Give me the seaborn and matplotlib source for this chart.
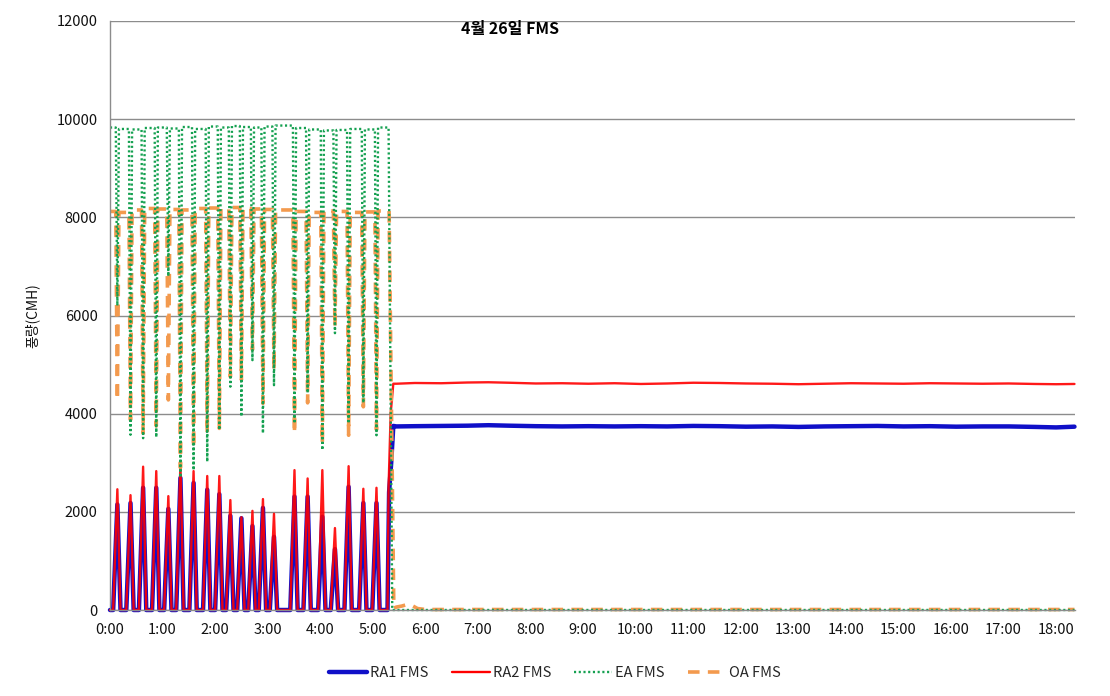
import matplotlib
matplotlib.use("Agg")
import matplotlib.pyplot as plt
import seaborn as sns
import pandas as pd

# ---------------- data (hours since 0:00, values in CMH) ----------------
title = "4월 26일 FMS"
y_label = "풍량(CMH)"
series_names = ["RA1 FMS", "RA2 FMS", "EA FMS", "OA FMS"]
x_ticks = list(range(0, 19))
x_tick_labels = [f"{h}:00" for h in x_ticks]
y_ticks = [0, 2000, 4000, 6000, 8000, 10000, 12000]

# intermittent cycles (0:00 - 5:20): return-air fan pulses
t_on = [0.06, 0.31, 0.55, 0.80, 1.03, 1.26, 1.51, 1.77, 2.00, 2.21, 2.42,
        2.63, 2.83, 3.04, 3.43, 3.68, 3.96, 4.20, 4.46, 4.74, 4.99]
t_peak = [0.14, 0.39, 0.63, 0.88, 1.11, 1.34, 1.59, 1.85, 2.08, 2.29, 2.50,
          2.71, 2.91, 3.12, 3.51, 3.76, 4.04, 4.28, 4.54, 4.82, 5.07]
t_off = [0.20, 0.45, 0.69, 0.94, 1.17, 1.40, 1.65, 1.91, 2.14, 2.35, 2.56,
         2.77, 2.97, 3.18, 3.57, 3.82, 4.10, 4.34, 4.60, 4.88, 5.13]
ra2_peak = [2460, 2340, 2920, 2830, 2320, 2990, 2830, 2730, 2730, 2240, 1890,
            2020, 2260, 1960, 2850, 2680, 2850, 1670, 2930, 2470, 2490]
ra1_peak = [2150, 2180, 2490, 2490, 2060, 2690, 2590, 2450, 2360, 1920, 1870,
            1710, 2080, 1490, 2310, 2310, 1900, 1240, 2510, 2180, 2180]
# exhaust / outdoor-air dips during the same cycles
d_on = [0.11, 0.36, 0.60, 0.85, 1.08, 1.31, 1.56, 1.82, 2.05, 2.26, 2.47,
        2.68, 2.88, 3.09, 3.48, 3.73, 4.01, 4.25, 4.51, 4.79, 5.04]
d_off = [0.17, 0.42, 0.66, 0.91, 1.14, 1.37, 1.62, 1.88, 2.11, 2.32, 2.53,
         2.74, 2.94, 3.15, 3.54, 3.79, 4.07, 4.31, 4.57, 4.85, 5.10]
ea_min = [6200, 3570, 3500, 3520, 6800, 2700, 2850, 3020, 3670, 4550, 3940,
          5090, 3600, 4580, 3800, 4420, 3260, 5640, 3800, 4220, 3560]
oa_min = [4280, 3870, 3600, 3750, 4280, 2900, 3300, 3600, 3700, 4750, 4690,
          5300, 4210, 4890, 3600, 4220, 3400, 5770, 3560, 4140, 3670]
ea_top = [9830, 9800, 9790, 9820, 9830, 9810, 9840, 9800, 9850, 9830, 9860,
          9840, 9830, 9850, 9870, 9820, 9790, 9770, 9780, 9800, 9790, 9830]
oa_top = [8120, 8100, 8150, 8180, 8170, 8160, 8150, 8180, 8190, 8170, 8200,
          8180, 8170, 8160, 8150, 8120, 8100, 8130, 8120, 8100, 8110, 8130]

# switch-over to continuous operation (~5:18 - 5:24)
ra1_switch_t = [5.28, 5.31, 5.35, 5.39]
ra1_switch_v = [0, 2400, 3000, 3750]
ra2_switch_t = [5.28, 5.30, 5.34, 5.39]
ra2_switch_v = [0, 2500, 4000, 4610]
ea_switch_t = [5.30, 5.37]
ea_switch_v = [9830, 0]
oa_switch_t = [5.31, 5.40]
oa_switch_v = [8130, 40]

# continuous operation
steady_t = [5.45, 5.8, 6.3, 6.8, 7.2, 7.6, 8.1, 8.6, 9.1, 9.6, 10.1, 10.6,
            11.1, 11.6, 12.1, 12.6, 13.1, 13.6, 14.1, 14.6, 15.1, 15.6, 16.1,
            16.6, 17.1, 17.6, 18.0, 18.35]
ra2_steady = [4610, 4625, 4620, 4635, 4640, 4630, 4615, 4620, 4610, 4620,
              4605, 4615, 4630, 4625, 4615, 4610, 4600, 4610, 4620, 4615,
              4610, 4620, 4615, 4610, 4615, 4605, 4600, 4605]
ra1_steady = [3740, 3745, 3750, 3755, 3765, 3755, 3745, 3740, 3745, 3740,
              3745, 3740, 3750, 3745, 3735, 3740, 3730, 3740, 3745, 3750,
              3740, 3745, 3735, 3740, 3740, 3730, 3720, 3735]
ea_tail_t = [5.45, 18.35]
ea_tail_v = [0, 0]
oa_tail_t = [5.45, 5.55, 5.65, 5.75, 5.85, 6.0, 18.35]
oa_tail_v = [60, 80, 110, 90, 30, 10, 10]


def ra_series(peaks, sw_t, sw_v, steady):
    t, v = [0.0], [0.0]
    for a, p, b, pk in zip(t_on, t_peak, t_off, peaks):
        t += [a, p, b]
        v += [0, pk, 0]
    t += sw_t + steady_t
    v += sw_v + steady
    return pd.DataFrame({"t": t, "v": v})


def exhaust_series(tops, mins, sw_t, sw_v, tail_t, tail_v):
    t, v = [0.0], [tops[0]]
    for i, (a, p, b) in enumerate(zip(d_on, t_peak, d_off)):
        t += [a, p, b]
        v += [tops[i], mins[i], tops[i + 1]]
    t += sw_t + tail_t
    v += sw_v + tail_v
    return pd.DataFrame({"t": t, "v": v})


df_ra1 = ra_series(ra1_peak, ra1_switch_t, ra1_switch_v, ra1_steady)
df_ra2 = ra_series(ra2_peak, ra2_switch_t, ra2_switch_v, ra2_steady)
df_ea = exhaust_series(ea_top, ea_min, ea_switch_t, ea_switch_v, ea_tail_t, ea_tail_v)
df_oa = exhaust_series(oa_top, oa_min, oa_switch_t, oa_switch_v, oa_tail_t, oa_tail_v)

# ---------------- plot ----------------
sns.set_theme(style="white")
plt.rcParams['font.family'] = ['Noto Sans CJK KR', 'DejaVu Sans']

fig = plt.figure(figsize=(11.1, 6.96), dpi=100)
ax = fig.add_axes([110 / 1110, 86 / 696, 965 / 1110, 589 / 696])

c_ra1, c_ra2, c_ea, c_oa = "#1010c8", "#ff0000", "#14a050", "#f39a4e"

common = dict(x="t", y="v", ax=ax, sort=False, estimator=None)
sns.lineplot(data=df_ra1, color=c_ra1, lw=3.2, label=series_names[0], **common)
sns.lineplot(data=df_ra2, color=c_ra2, lw=1.7, alpha=0.9, label=series_names[1], **common)
sns.lineplot(data=df_oa, color=c_oa, lw=2.6, linestyle=(0, (3.2, 2.3)),
             label=series_names[3], **common)
sns.lineplot(data=df_ea, color=c_ea, lw=1.7, linestyle=(0, (0.9, 1.1)),
             label=series_names[2], **common)
for ln in ax.lines:
    ln.set_clip_on(False)

ax.set_xlim(0, 18.36)
ax.set_ylim(0, 12000)
ax.set_xticks(x_ticks)
ax.set_xticklabels(x_tick_labels)
ax.set_yticks(y_ticks)
ax.set_yticklabels([str(v) for v in y_ticks])
ax.grid(axis="y", color="#8c8c8c", lw=1.0)
ax.grid(axis="x", visible=False)
ax.set_axisbelow(True)
for s in ["top", "right"]:
    ax.spines[s].set_visible(False)
for s in ["left", "bottom"]:
    ax.spines[s].set_color("#8c8c8c")
    ax.spines[s].set_linewidth(1.0)
ax.tick_params(axis="both", direction="out", length=5, width=1,
               color="#8c8c8c", labelsize=10.5, labelcolor="#111111", pad=4)
ax.set_xlabel("")
ax.set_ylabel(y_label, fontsize=10, color="#111111", labelpad=12)

ax.text(0.414, 0.986, title, transform=ax.transAxes, ha="center", va="center",
        fontsize=11.5, fontweight="bold", color="#000000")

handles, labels = ax.get_legend_handles_labels()
order = [labels.index(n) for n in series_names]
ax.get_legend().remove()
leg = fig.legend([handles[i] for i in order], [labels[i] for i in order],
                 loc="center", bbox_to_anchor=(0.5, 0.033), ncol=4, frameon=False,
                 fontsize=10.5, handlelength=2.6, columnspacing=1.6, handletextpad=0.2)
for h in leg.get_lines():
    h.set_alpha(1.0)

fig.savefig("out.png", dpi=100)
